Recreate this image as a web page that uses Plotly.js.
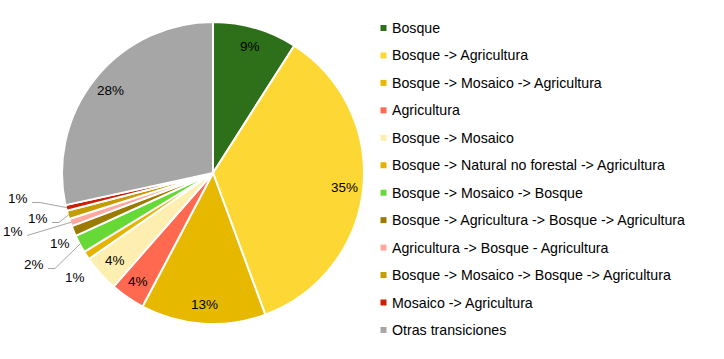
<!DOCTYPE html>
<html><head><meta charset="utf-8">
<script src="https://cdn.plot.ly/plotly-3.0.1.min.js"></script>
<style>html,body{margin:0;padding:0;background:#fff}#chart{width:724px;height:359px}</style>
</head><body><div id="chart"></div>
<script>
// ---- data ----
const categories = [
  "Bosque",
  "Bosque -> Agricultura",
  "Bosque -> Mosaico -> Agricultura",
  "Agricultura",
  "Bosque -> Mosaico",
  "Bosque -> Natural no forestal -> Agricultura",
  "Bosque -> Mosaico -> Bosque",
  "Bosque -> Agricultura -> Bosque -> Agricultura",
  "Agricultura -> Bosque - Agricultura",
  "Bosque -> Mosaico -> Bosque -> Agricultura",
  "Mosaico -> Agricultura",
  "Otras transiciones"
];
const values = [9.0, 35.2, 13.3, 3.7, 3.9, 0.9, 1.9, 1.1, 0.8, 0.9, 0.6, 28.3];
const colors = ["#2e7019","#fdd835","#e6b800","#ff6950","#feefb0","#e6b400",
                "#66d937","#9a7b00","#ffa8a0","#c29c00","#cc1f00","#a6a6a6"];

// ---- layout config (pixels) ----
const W = 724, H = 359;
const cx = 213, cy = 173, R = 151;
const insideR = 132;
// outside labels: index -> [labelCenterX, labelCenterY, elbowX or null, drawLine]
const outside = {
  5:  [75, 277, null, false],
  6:  [34, 264, 55, true],
  7:  [60, 243, null, false],
  8:  [13, 231, null, true],
  9:  [38, 218, 59, true],
  10: [18, 198, 40, true]
};
const fontFam = "Liberation Sans, Arial, sans-serif";
const labelSize = 13.5, legendSize = 14.2;

const px = x => x / W;
const py = y => 1 - y / H;

const total = values.reduce((a, b) => a + b, 0);
const annotations = [];
const shapes = [];
let cum = 0;
values.forEach((v, i) => {
  const mid = (cum + v / 2) / total * 2 * Math.PI;
  cum += v;
  const pct = Math.round(v / total * 100) + "%";
  if (outside[i]) {
    const [lx, ly, ex, line] = outside[i];
    annotations.push({xref: "paper", yref: "paper", x: px(lx), y: py(ly),
      text: pct, showarrow: false, xanchor: "center", yanchor: "middle",
      font: {family: fontFam, size: labelSize, color: "#000"}});
    if (line) {
      const sx = lx + 14, sy = ly + 4.5;
      const tx = cx + (R - 1) * Math.sin(mid), ty = cy - (R - 1) * Math.cos(mid);
      let path = `M${px(sx)},${py(sy)}`;
      if (ex !== null) path += ` L${px(ex)},${py(sy)}`;
      path += ` L${px(tx)},${py(ty)}`;
      shapes.push({type: "path", xref: "paper", yref: "paper", path: path,
        line: {color: "#a6a6a6", width: 1}});
    }
  } else {
    const x = cx + insideR * Math.sin(mid), y = cy - insideR * Math.cos(mid);
    annotations.push({xref: "paper", yref: "paper", x: px(x), y: py(y),
      text: pct, showarrow: false, xanchor: "center", yanchor: "middle",
      font: {family: fontFam, size: labelSize, color: "#000"}});
  }
});

// legend (custom)
const legX = 380.5, legY0 = 28, legStep = 27.45, sq = 6;
categories.forEach((c, i) => {
  const y = legY0 + i * legStep;
  shapes.push({type: "rect", xref: "paper", yref: "paper",
    x0: px(legX), x1: px(legX + sq), y0: py(y - sq / 2), y1: py(y + sq / 2),
    fillcolor: colors[i], line: {width: 0}});
  annotations.push({xref: "paper", yref: "paper", x: px(legX + sq + 3), y: py(y),
    text: c.replace(/>/g, "&gt;"), showarrow: false, xanchor: "left", yanchor: "middle",
    font: {family: fontFam, size: legendSize, color: "#000"}});
});

const trace = {
  type: "pie",
  labels: categories,
  values: values,
  sort: false,
  direction: "clockwise",
  rotation: 0,
  textinfo: "none",
  hoverinfo: "label+percent",
  marker: {colors: colors, line: {color: "#ffffff", width: 2}},
  domain: {x: [62 / W, 364 / W], y: [1 - 324 / H, 1 - 22 / H]},
  showlegend: false
};

const layout = {
  width: W, height: H,
  margin: {l: 0, r: 0, t: 0, b: 0},
  paper_bgcolor: "#ffffff",
  showlegend: false,
  annotations: annotations,
  shapes: shapes,
  font: {family: fontFam}
};

Plotly.newPlot("chart", [trace], layout, {displayModeBar: false, staticPlot: true});
</script>
</body></html>
